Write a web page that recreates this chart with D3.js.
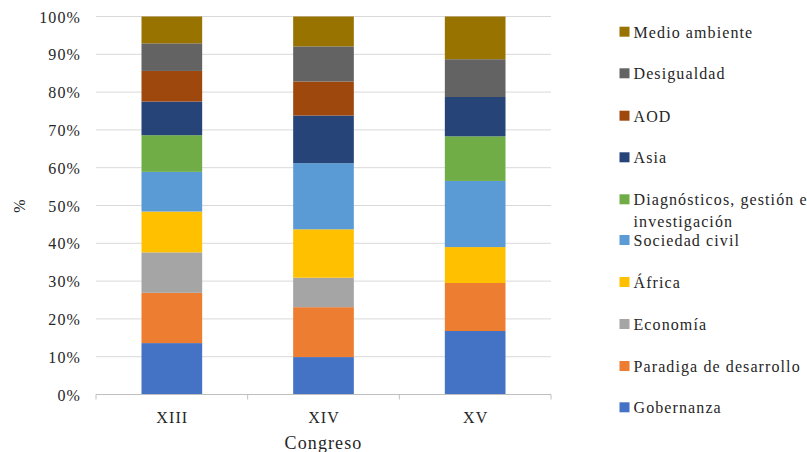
<!DOCTYPE html>
<html><head><meta charset="utf-8"><script src="https://cdn.jsdelivr.net/npm/d3@7"></script></head>
<body style="margin:0">
<svg id="s" width="807" height="452" style="font-family: Tinos, 'Liberation Serif', serif"></svg>
<script>
// ========= Data
const congresos = ["XIII", "XIV", "XV"];
const temas = ["Gobernanza", "Paradiga de desarrollo", "Economía", "África", "Sociedad civil",
  "Diagnósticos, gestión e investigación", "Asia", "AOD", "Desigualdad", "Medio ambiente"];
const colores = ["#4472C4", "#ED7D31", "#A5A5A5", "#FFC000", "#5B9BD5",
  "#70AD47", "#264478", "#9E480E", "#636363", "#997300"];
// percentages per congreso, in the same order as temas
const valoresXIII = [13.6, 13.3, 10.7, 10.8, 10.5, 9.7, 8.9, 8.1, 7.3, 7.1];
const valoresXIV = [9.9, 13.2, 7.8, 12.8, 17.5, 0, 12.6, 9.0, 9.3, 7.9];
const valoresXV = [16.8, 12.7, 0, 9.5, 17.5, 11.8, 10.4, 0, 10.0, 11.3];
const yTicks = [0, 10, 20, 30, 40, 50, 60, 70, 80, 90, 100];

const valores = [valoresXIII, valoresXIV, valoresXV];
const rows = congresos.map((c, i) => {
  const r = { congreso: c };
  temas.forEach((t, j) => r[t] = valores[i][j]);
  return r;
});

// ========= Layout
const TXT = "#262626";
const svg = d3.select("#s");
const m = { l: 96, r: 256, t: 16.5, b: 57.5 };
const W = 807, H = 452;

const x = d3.scaleBand().domain(congresos).range([m.l, W - m.r]).paddingInner(0.6).paddingOuter(0.3);
const xBand = d3.scaleBand().domain(congresos).range([m.l, W - m.r]);
const y = d3.scaleLinear().domain([0, 100]).range([H - m.b, m.t]);

// serif text, slightly spaced out like the original
const label = (sel, size) => sel
  .style("font", `${size}px Tinos, "Liberation Serif", serif`)
  .style("letter-spacing", "1.1px")
  .attr("fill", TXT);

// gridlines
svg.append("g")
  .selectAll("line")
  .data(yTicks.slice(1))
  .join("line")
  .attr("x1", m.l).attr("x2", W - m.r)
  .attr("y1", d => y(d)).attr("y2", d => y(d))
  .attr("stroke", "#d9d9d9").attr("stroke-width", 1);

// stacked bars
const series = d3.stack().keys(temas)(rows);
svg.append("g")
  .selectAll("g")
  .data(series)
  .join("g")
  .attr("fill", (d, i) => colores[i])
  .selectAll("rect")
  .data(d => d)
  .join("rect")
  .attr("x", d => x(d.data.congreso))
  .attr("width", x.bandwidth())
  .attr("y", d => y(d[1]))
  .attr("height", d => y(d[0]) - y(d[1]));

// x axis
svg.append("line")
  .attr("x1", m.l).attr("x2", W - m.r)
  .attr("y1", y(0)).attr("y2", y(0))
  .attr("stroke", "#bfbfbf");
svg.selectAll("line.tick")
  .data(d3.range(congresos.length + 1))
  .join("line")
  .attr("class", "tick")
  .attr("x1", i => m.l + i * xBand.step()).attr("x2", i => m.l + i * xBand.step())
  .attr("y1", y(0)).attr("y2", y(0) + 5)
  .attr("stroke", "#bfbfbf");
svg.selectAll("text.cat")
  .data(congresos)
  .join("text")
  .attr("class", "cat")
  .attr("x", d => xBand(d) + xBand.bandwidth() / 2 + 0.5)
  .attr("y", y(0) + 28)
  .attr("text-anchor", "middle")
  .call(label, 16)
  .text(d => d);

// y labels
svg.selectAll("text.ytick")
  .data(yTicks)
  .join("text")
  .attr("class", "ytick")
  .attr("x", 81)
  .attr("y", d => y(d) + 6)
  .attr("text-anchor", "end")
  .call(label, 16)
  .text(d => d + "%");

// axis titles
svg.append("text")
  .attr("transform", `translate(25,${(y(0) + y(100)) / 2}) rotate(-90)`)
  .attr("text-anchor", "middle")
  .call(label, 16)
  .text("%");

svg.append("text")
  .attr("x", (m.l + W - m.r) / 2)
  .attr("y", 449)
  .attr("text-anchor", "middle")
  .call(label, 18)
  .text("Congreso");

// legend (top = last series)
const legendY = [31.7, 73.3, 115.7, 157.3, 199.3, 240, 282, 324, 366, 407.3];
const legItems = temas.slice().reverse().map((t, i) => ({ t, c: colores[temas.length - 1 - i], y: legendY[i] }));
svg.selectAll("rect.sw")
  .data(legItems)
  .join("rect")
  .attr("class", "sw")
  .attr("x", 619.5).attr("y", d => d.y - 5).attr("width", 10).attr("height", 10)
  .attr("fill", d => d.c);
svg.selectAll("text.leg")
  .data(legItems.filter(d => !d.t.startsWith("Diagnósticos")))
  .join("text")
  .attr("class", "leg")
  .attr("x", 633.5)
  .attr("y", d => d.y + 6)
  .call(label, 16)
  .text(d => d.t);
// wrapped legend entry
const diag = legItems.find(d => d.t.startsWith("Diagnósticos"));
svg.selectAll("text.leg2")
  .data(["Diagnósticos, gestión e", "investigación"])
  .join("text")
  .attr("class", "leg2")
  .attr("x", 633.5)
  .attr("y", (d, i) => diag.y + 6 + i * 21.4)
  .call(label, 16)
  .text(d => d);
</script>
</body></html>
